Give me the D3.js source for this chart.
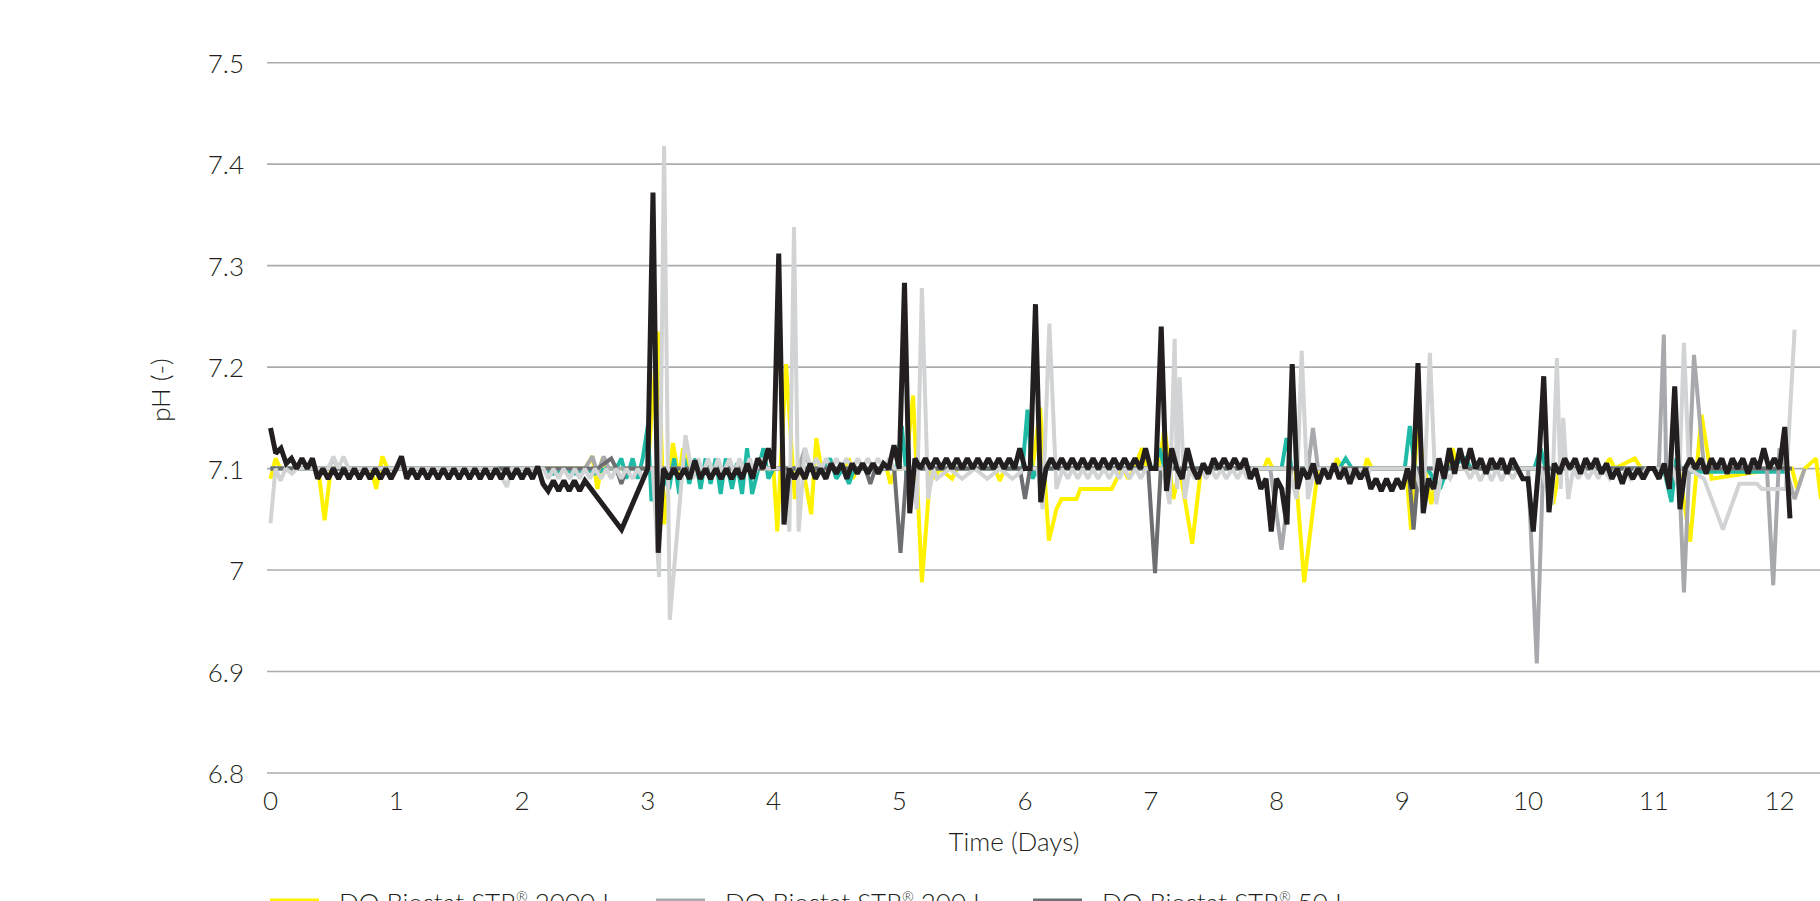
<!DOCTYPE html>
<html><head><meta charset="utf-8">
<script src="https://cdn.jsdelivr.net/npm/d3@7"></script>
<style>
body{margin:0;background:#fff;}
svg{display:block;}
text{font-family:Lato,"Open Sans",sans-serif;font-weight:300;fill:#231f20;}
</style>
</head><body>
<svg id="chart" width="1820" height="901"></svg>
<script>
// ---------------- DATA ----------------
const yTicks = [6.8, 6.9, 7.0, 7.1, 7.2, 7.3, 7.4, 7.5];
const yTickLabels = ["6.8", "6.9", "7", "7.1", "7.2", "7.3", "7.4", "7.5"];
const xTicks = [0, 1, 2, 3, 4, 5, 6, 7, 8, 9, 10, 11, 12];
const xTickLabels = ["0", "1", "2", "3", "4", "5", "6", "7", "8", "9", "10", "11", "12"];
const xTitle = "Time (Days)";
const yTitle = "pH (-)";

const seriesNames = ["DO Biostat STR® 2000 L", "DO Biostat STR® 200 L", "DO Biostat STR® 50 L"];

// hourly readings (days = index / 24), null = no reading
const blackHourly = [
7.14,7.115,7.12,7.105,7.11,7.1,7.11,7.1,7.11,7.09,7.1,7.09,7.1,7.09,7.1,7.09,7.1,7.09,7.1,7.09,7.1,7.09,7.1,7.09,
7.1,7.112,7.09,7.1,7.09,7.1,7.09,7.1,7.09,7.1,7.09,7.1,7.09,7.1,7.09,7.1,7.09,7.1,7.09,7.1,7.09,7.1,7.09,7.1,
7.09,7.1,7.09,7.102,7.085,7.078,7.088,7.078,7.088,7.078,7.088,7.078,7.088,null,null,null,null,null,null,7.04,null,null,null,null,
7.1,7.372,7.017,7.1,7.09,7.1,7.09,7.1,7.09,7.108,7.09,7.1,7.09,7.1,7.09,7.1,7.09,7.1,7.09,7.105,7.09,7.11,7.1,7.12,
7.1,7.312,7.045,7.1,7.09,7.1,7.09,7.105,7.09,7.1,7.09,7.105,7.095,7.105,7.09,7.105,7.095,7.105,7.095,7.105,7.095,7.105,7.1,7.123,
7.1,7.283,7.056,7.11,7.1,7.11,7.1,7.11,7.1,7.11,7.1,7.11,7.1,7.11,7.1,7.11,7.1,7.11,7.1,7.11,7.1,7.11,7.1,7.12,
7.1,7.1,7.262,7.067,7.1,7.11,7.1,7.11,7.1,7.11,7.1,7.11,7.1,7.11,7.1,7.11,7.1,7.11,7.1,7.11,7.1,7.11,7.1,7.12,
7.1,7.1,7.24,7.078,7.12,7.1,7.09,7.12,7.1,7.09,7.105,7.095,7.11,7.1,7.11,7.1,7.11,7.1,7.11,7.09,7.1,7.08,7.09,7.038,
7.09,7.08,7.045,7.203,7.08,7.1,7.09,7.105,7.085,7.1,7.09,7.105,7.09,7.1,7.085,7.1,7.09,7.1,7.08,7.09,7.078,7.09,7.078,7.09,
7.08,7.1,7.08,7.204,7.056,7.09,7.08,7.11,7.09,7.12,7.095,7.12,7.1,7.12,7.1,7.11,7.095,7.11,7.1,7.11,7.095,7.11,7.1,7.09,
7.09,7.038,7.1,7.191,7.057,7.105,7.095,7.11,7.1,7.11,7.095,7.11,7.1,7.11,7.095,7.105,7.09,7.1,7.085,7.1,7.09,7.1,7.09,7.1,
7.1,7.09,7.105,7.08,7.181,7.06,7.1,7.11,7.1,7.11,7.095,7.11,7.1,7.11,7.095,7.11,7.1,7.11,7.095,7.11,7.1,7.12,7.1,7.11,
7.1,7.141,7.051
];

// [day, pH]
const yellowPts = [[0,7.09],[0.04,7.11],[0.08,7.1],[0.38,7.1],[0.43,7.049],[0.48,7.1],[0.8,7.1],[0.84,7.08],[0.89,7.112],[0.93,7.1],[2.5,7.1],[2.56,7.112],[2.6,7.08],[2.64,7.11],[2.68,7.1],[3.0,7.1],[3.08,7.235],[3.13,7.045],[3.2,7.125],[3.25,7.09],[3.28,7.12],[3.33,7.1],[3.8,7.1],[4.0,7.1],[4.03,7.038],[4.1,7.203],[4.17,7.07],[4.22,7.11],[4.3,7.055],[4.34,7.13],[4.38,7.1],[4.56,7.1],[4.6,7.11],[4.63,7.09],[4.67,7.1],[4.9,7.1],[4.93,7.085],[4.97,7.1],[5.05,7.1],[5.11,7.172],[5.18,6.988],[5.25,7.1],[5.28,7.09],[5.32,7.1],[5.42,7.09],[5.46,7.1],[5.76,7.1],[5.8,7.088],[5.84,7.1],[6.06,7.1],[6.12,7.16],[6.19,7.029],[6.25,7.06],[6.29,7.07],[6.41,7.07],[6.44,7.08],[6.69,7.08],[6.73,7.09],[6.78,7.1],[6.82,7.09],[6.87,7.1],[6.93,7.12],[6.97,7.1],[7.06,7.1],[7.11,7.14],[7.18,7.07],[7.23,7.1],[7.33,7.026],[7.4,7.1],[7.9,7.1],[7.93,7.11],[7.97,7.1],[8.15,7.1],[8.22,6.988],[8.33,7.1],[8.46,7.1],[8.48,7.11],[8.52,7.1],[8.7,7.1],[8.72,7.11],[8.76,7.1],[9.03,7.1],[9.07,7.04],[9.12,7.14],[9.18,7.1],[9.23,7.065],[9.28,7.1],[9.36,7.1],[9.4,7.12],[9.44,7.1],[10.15,7.1],[10.2,7.065],[10.25,7.1],[10.6,7.1],[10.65,7.11],[10.69,7.1],[10.85,7.11],[10.9,7.1],[11.2,7.1],[11.29,7.028],[11.38,7.153],[11.46,7.09],[12.0,7.1],[12.1,7.1],[12.14,7.08],[12.2,7.1],[12.29,7.11],[12.33,7.07]];

const tealPts = [[0,7.1],[2.1,7.1],[2.17,7.1],[2.25,7.095],[2.33,7.1],[2.42,7.095],[2.5,7.1],[2.58,7.095],[2.67,7.1],[2.75,7.1],[2.79,7.11],[2.83,7.09],[2.88,7.11],[2.92,7.09],[2.96,7.11],[3.0,7.142],[3.03,7.068],[3.1,7.1],[3.17,7.08],[3.21,7.11],[3.25,7.075],[3.29,7.11],[3.33,7.085],[3.38,7.11],[3.42,7.08],[3.46,7.11],[3.5,7.085],[3.54,7.11],[3.58,7.075],[3.62,7.11],[3.67,7.08],[3.71,7.105],[3.75,7.075],[3.79,7.12],[3.83,7.075],[3.88,7.1],[3.92,7.12],[3.96,7.09],[4.0,7.1],[4.1,7.1],[4.4,7.1],[4.45,7.11],[4.5,7.09],[4.55,7.1],[4.6,7.085],[4.64,7.1],[4.98,7.1],[5.02,7.142],[5.06,7.09],[5.1,7.1],[5.98,7.1],[6.02,7.158],[6.06,7.09],[6.1,7.1],[7.03,7.1],[7.07,7.12],[7.11,7.1],[8.04,7.1],[8.08,7.13],[8.12,7.1],[8.5,7.1],[8.55,7.11],[8.6,7.1],[9.02,7.1],[9.06,7.142],[9.1,7.1],[9.2,7.1],[9.3,7.08],[9.36,7.1],[9.5,7.11],[9.55,7.1],[10.05,7.1],[10.1,7.12],[10.14,7.1],[11.08,7.1],[11.14,7.067],[11.18,7.11],[11.22,7.1],[11.3,7.097],[12.05,7.097]];

const medGrayPts = [[0,7.1],[0.46,7.1],[0.5,7.11],[0.54,7.1],[2.1,7.1],[2.5,7.1],[2.56,7.112],[2.6,7.095],[2.65,7.112],[2.69,7.1],[3.0,7.1],[4.2,7.1],[4.25,7.12],[4.29,7.1],[7.95,7.1],[8.04,7.02],[8.12,7.1],[8.25,7.1],[8.29,7.14],[8.33,7.1],[10.0,7.1],[10.07,6.908],[10.12,7.1],[11.04,7.1],[11.08,7.232],[11.1,7.09],[11.2,7.1],[11.24,6.978],[11.32,7.212],[11.4,7.1],[11.9,7.1],[11.95,6.985],[12.0,7.12],[12.05,7.1],[12.12,7.07],[12.2,7.1]];

const darkGrayPts = [[0,7.1],[2.6,7.1],[2.71,7.11],[2.75,7.1],[2.79,7.085],[2.83,7.1],[3.0,7.1],[4.73,7.1],[4.77,7.085],[4.81,7.1],[4.96,7.1],[5.01,7.017],[5.06,7.1],[5.96,7.1],[6.0,7.07],[6.04,7.1],[6.98,7.1],[7.034,6.997],[7.08,7.1],[9.05,7.1],[9.09,7.04],[9.13,7.1],[12.1,7.1]];

const lightGrayPts = [[0,7.046],[0.04,7.1],[0.08,7.088],[0.12,7.1],[0.17,7.095],[0.21,7.1],[0.46,7.1],[0.5,7.112],[0.54,7.1],[0.58,7.112],[0.62,7.1],[1.8,7.1],[1.88,7.082],[1.92,7.1],[2.13,7.1],
[2.17,7.1],[2.21,7.09],[2.25,7.1],[2.29,7.09],[2.33,7.1],[2.38,7.09],[2.42,7.1],[2.46,7.09],[2.5,7.1],[2.54,7.09],[2.58,7.1],[2.63,7.09],[2.67,7.1],[2.71,7.09],[2.75,7.1],[2.79,7.09],[2.83,7.1],[2.88,7.09],[2.92,7.1],[2.96,7.09],[3.0,7.1],[3.04,7.1],
[3.09,6.993],[3.13,7.418],[3.175,6.951],[3.3,7.133],[3.36,7.09],[3.4,7.11],[3.44,7.095],[3.48,7.11],[3.52,7.095],[3.56,7.11],[3.6,7.095],[3.65,7.11],[3.69,7.095],[3.73,7.11],[3.77,7.095],[3.81,7.11],[3.85,7.095],[3.9,7.11],[3.94,7.1],[4.0,7.1],[4.08,7.1],
[4.126,7.038],[4.163,7.338],[4.2,7.038],[4.25,7.12],[4.3,7.1],[4.34,7.11],[4.38,7.1],[4.42,7.11],[4.46,7.1],[4.5,7.11],[4.54,7.1],[4.58,7.11],[4.63,7.1],[4.67,7.11],[4.71,7.1],[4.75,7.11],[4.79,7.1],[4.83,7.11],[4.88,7.1],[4.92,7.11],[4.96,7.1],[5.1,7.1],
[5.14,7.06],[5.18,7.278],[5.23,7.07],[5.27,7.1],[5.3,7.09],[5.4,7.1],[5.5,7.09],[5.6,7.1],[5.7,7.09],[5.8,7.1],[5.9,7.09],[6.0,7.1],[6.1,7.1],
[6.14,7.06],[6.194,7.243],[6.25,7.08],[6.3,7.1],[6.34,7.09],[6.38,7.1],[6.42,7.09],[6.46,7.1],[6.5,7.09],[6.54,7.1],[6.58,7.09],[6.63,7.1],[6.67,7.09],[6.71,7.1],[6.75,7.09],[6.79,7.1],[6.83,7.09],[6.88,7.1],[6.92,7.09],[6.96,7.1],[7.1,7.1],
[7.15,7.065],[7.19,7.228],[7.21,7.08],[7.23,7.19],[7.27,7.07],[7.31,7.1],[7.35,7.09],[7.4,7.1],[7.44,7.09],[7.48,7.1],[7.52,7.09],[7.56,7.1],[7.6,7.09],[7.65,7.1],[7.69,7.09],[7.73,7.1],[7.77,7.09],[7.81,7.1],[7.85,7.1],[8.1,7.1],
[8.16,7.07],[8.2,7.216],[8.25,7.07],[8.3,7.1],[8.5,7.1],[8.54,7.09],[8.58,7.1],[8.62,7.09],[8.67,7.1],[8.71,7.09],[8.75,7.1],[9.1,7.1],
[9.17,7.07],[9.22,7.214],[9.27,7.065],[9.32,7.1],[9.38,7.09],[9.42,7.1],[9.5,7.1],[9.54,7.09],[9.58,7.1],[9.62,7.088],[9.67,7.1],[9.71,7.088],[9.75,7.1],[9.79,7.088],[9.83,7.1],[9.88,7.09],[9.92,7.1],[10.1,7.1],
[10.19,7.065],[10.23,7.209],[10.26,7.08],[10.28,7.15],[10.32,7.07],[10.36,7.1],[10.4,7.09],[10.44,7.1],[10.48,7.09],[10.52,7.1],[10.56,7.09],[10.6,7.1],[10.65,7.09],[10.7,7.1],[10.74,7.088],[10.78,7.1],[10.82,7.088],[10.86,7.1],[10.9,7.09],[10.94,7.1],[11.0,7.1],[11.15,7.1],
[11.2,7.08],[11.24,7.224],[11.28,7.1],[11.4,7.09],[11.55,7.04],[11.68,7.085],[11.82,7.085],[11.86,7.08],[12.05,7.08],[12.12,7.237]];

// ---------------- CHART ----------------
const svg = d3.select("#chart");
const x = d3.scaleLinear().domain([0, 12]).range([270.5, 1779.5]);
const y = d3.scaleLinear().domain([6.8, 7.5]).range([773, 62.7]);

// gridlines
svg.append("g").selectAll("line").data(yTicks).join("line")
  .attr("x1", 267).attr("x2", 1820)
  .attr("y1", d => y(d)).attr("y2", d => y(d))
  .attr("stroke", "#a9abae").attr("stroke-width", 1.6);

// y tick labels
svg.append("g").selectAll("text").data(yTicks).join("text")
  .attr("x", 244).attr("y", d => y(d))
  .attr("text-anchor", "end").attr("dominant-baseline", "central")
  .attr("font-size", 26)
  .text((d, i) => yTickLabels[i]);

// x tick labels
svg.append("g").selectAll("text").data(xTicks).join("text")
  .attr("x", d => x(d)).attr("y", 810)
  .attr("text-anchor", "middle")
  .attr("font-size", 26)
  .text((d, i) => xTickLabels[i]);

// axis titles
svg.append("text").attr("x", 1014).attr("y", 851).attr("text-anchor", "middle")
  .attr("font-size", 26).text(xTitle);
svg.append("text").attr("transform", "translate(170,390) rotate(-90)")
  .attr("text-anchor", "middle").attr("font-size", 26).text(yTitle);

// clip
svg.append("defs").append("clipPath").attr("id", "plotClip")
  .append("rect").attr("x", 267).attr("y", 0).attr("width", 1553).attr("height", 901);

const line = d3.line().x(d => x(d[0])).y(d => y(d[1]));
const blackPts = blackHourly.map((v, i) => [i / 24, v]).filter(d => d[1] !== null);

const series = [
  {pts: yellowPts, color: "#fff200", w: 4},
  {pts: tealPts, color: "#1fbaa6", w: 4},
  {pts: medGrayPts, color: "#a7a9ac", w: 4},
  {pts: darkGrayPts, color: "#6d6e71", w: 4},
  {pts: lightGrayPts, color: "#d1d3d4", w: 4},
  {pts: blackPts, color: "#231f20", w: 5}
];

const plot = svg.append("g").attr("clip-path", "url(#plotClip)");
plot.selectAll("path").data(series).join("path")
  .attr("d", d => line(d.pts))
  .attr("fill", "none")
  .attr("stroke", d => d.color)
  .attr("stroke-width", d => d.w)
  .attr("stroke-linejoin", "miter")
  .attr("stroke-miterlimit", 2);

// legend (first row, partly cut by the bottom edge as in the reference)
const legendColors = ["#fff200", "#a7a9ac", "#6d6e71"];
const legendX = [270, 656, 1033];
const lg = svg.append("g").selectAll("g").data(seriesNames).join("g")
  .attr("transform", (d, i) => `translate(${legendX[i]},0)`);
lg.append("line").attr("x1", 0).attr("x2", 49).attr("y1", 901).attr("y2", 901)
  .attr("stroke", (d, i) => legendColors[i]).attr("stroke-width", 5);
const lt = lg.append("text").attr("x", 69).attr("y", 912).attr("font-size", 26);
lt.each(function(d) {
  const parts = d.split("®");
  const t = d3.select(this);
  t.append("tspan").text(parts[0]);
  t.append("tspan").attr("font-size", 14).attr("dy", -10).text("®");
  t.append("tspan").attr("dy", 10).text(parts[1]);
});
</script>
</body></html>
